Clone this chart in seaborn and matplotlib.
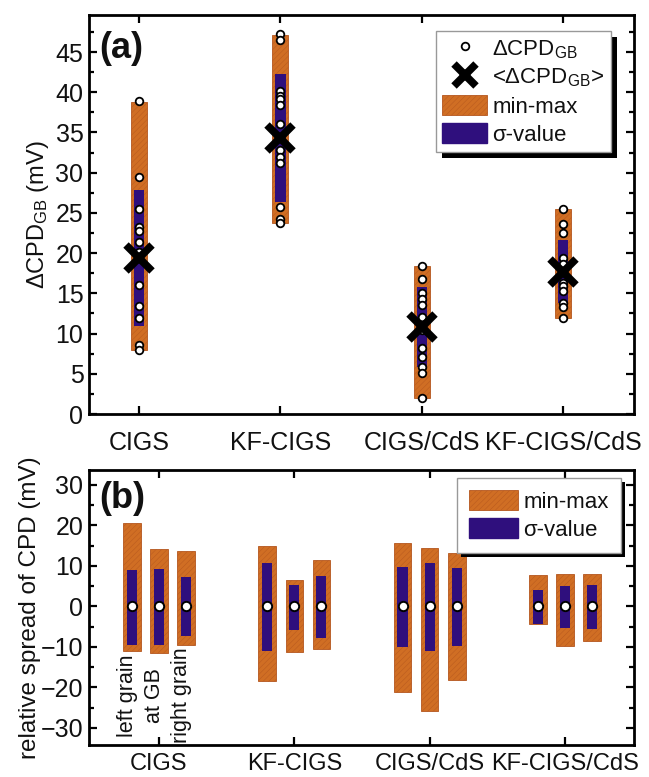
import numpy as np
import pandas as pd
import matplotlib
matplotlib.use('Agg')
import matplotlib.pyplot as plt
import seaborn as sns
from matplotlib.lines import Line2D
from matplotlib.patches import Patch, Rectangle
from matplotlib.ticker import MultipleLocator, AutoMinorLocator

# ---- data ----
categories = ['CIGS', 'KF-CIGS', 'CIGS/CdS', 'KF-CIGS/CdS']

# panel (a): Delta CPD at grain boundaries
gb_min = [8.0, 23.8, 2.0, 11.9]
gb_max = [38.8, 47.1, 18.4, 25.5]
gb_sig_lo = [11.0, 26.4, 5.9, 13.8]
gb_sig_hi = [27.9, 42.3, 15.8, 21.6]
gb_mean = [19.4, 34.3, 10.8, 17.6]
gb_cigs = [38.9, 29.4, 25.5, 23.3, 22.8, 21.4, 20.2, 16.0, 13.4, 11.9, 8.6, 8.0]
gb_kf = [47.2, 46.5, 40.1, 39.5, 39.1, 38.4, 36.1, 32.8, 31.9, 31.2, 25.7, 24.3, 23.8]
gb_cds = [18.4, 16.8, 15.1, 14.3, 13.5, 12.1, 10.4, 8.2, 7.1, 5.9, 5.1, 2.0]
gb_kfcds = [25.5, 23.6, 22.5, 19.4, 18.6, 17.7, 16.3, 15.9, 15.3, 13.8, 13.3, 11.9]

# panel (b): relative spread of CPD (left grain, at GB, right grain)
positions = ['left grain', 'at GB', 'right grain']
spread_min = [[-11.1, -11.5, -9.5], [-18.4, -11.3, -10.6], [-21.0, -25.7, -18.1], [-4.4, -9.8, -8.6]]
spread_max = [[20.6, 14.2, 13.6], [15.0, 6.6, 11.5], [15.6, 14.5, 13.3], [7.7, 8.1, 7.9]]
spread_sig_lo = [[-9.4, -9.4, -7.4], [-11.1, -5.7, -7.8], [-10.0, -11.1, -9.7], [-4.3, -5.3, -5.5]]
spread_sig_hi = [[9.1, 9.2, 7.2], [10.8, 5.3, 7.6], [9.7, 10.8, 9.5], [4.1, 5.0, 5.2]]

ORANGE = '#d06e24'
ORANGE_EDGE = '#b4561e'
PURPLE = '#2f0f7d'

sns.set_theme(style='ticks')
plt.rcParams['font.family'] = ['Liberation Sans', 'DejaVu Sans']
plt.rcParams['mathtext.fontset'] = 'custom'
plt.rcParams['mathtext.rm'] = 'Liberation Sans'
plt.rcParams['mathtext.it'] = 'Liberation Sans'
plt.rcParams['hatch.linewidth'] = 0.3
plt.rcParams['text.color'] = '#111111'
plt.rcParams['axes.labelcolor'] = '#111111'

fig = plt.figure(figsize=(6.49, 7.77), dpi=100)
ax1 = fig.add_axes([89 / 649, 1 - 414 / 777, 545 / 649, 399 / 777])
ax2 = fig.add_axes([89 / 649, 1 - 745 / 777, 545 / 649, 275 / 777])

x = np.arange(len(categories))

# ---- panel (a) ----
ax1.bar(x, np.array(gb_max) - np.array(gb_min), bottom=gb_min, width=0.113,
        color=ORANGE, edgecolor=ORANGE_EDGE, linewidth=0.6, hatch='//////', zorder=2)
ax1.bar(x, np.array(gb_sig_hi) - np.array(gb_sig_lo), bottom=gb_sig_lo, width=0.073,
        color=PURPLE, linewidth=0, zorder=3)

dots = pd.DataFrame({
    'pos': np.concatenate([[i] * len(v) for i, v in enumerate([gb_cigs, gb_kf, gb_cds, gb_kfcds])]),
    'value': np.concatenate([gb_cigs, gb_kf, gb_cds, gb_kfcds]),
})
sns.scatterplot(data=dots, x='pos', y='value', ax=ax1, s=30, color='white',
                edgecolor='black', linewidth=1.3, zorder=4, legend=False)
ax1.plot(x, gb_mean, linestyle='none', marker='x', markersize=19, mew=5.5,
         color='black', zorder=5)

ax1.set_xlim(-0.354, 3.5)
ax1.set_ylim(0, 49.6)
ax1.yaxis.set_major_locator(MultipleLocator(5))
ax1.yaxis.set_minor_locator(AutoMinorLocator(2))
ax1.set_xticks(x)
ax1.set_xticklabels(categories, fontsize=18)
ax1.set_ylabel(r'$\Delta$CPD$_{\mathrm{GB}}$ (mV)', fontsize=17, labelpad=3)
ax1.text(0.018, 0.96, '(a)', transform=ax1.transAxes, fontsize=26,
         fontweight='bold', va='top', ha='left')

leg1_handles = [
    Line2D([], [], linestyle='none', marker='o', markersize=5.5, markerfacecolor='white',
           markeredgecolor='black', mew=1.3),
    Line2D([], [], linestyle='none', marker='x', markersize=16, mew=5.5, color='black'),
    Patch(facecolor=ORANGE, edgecolor=ORANGE_EDGE, linewidth=0.6, hatch='//////'),
    Patch(facecolor=PURPLE, edgecolor=PURPLE),
]
leg1_labels = [r'$\Delta$CPD$_{\mathrm{GB}}$', r'<$\Delta$CPD$_{\mathrm{GB}}$>', 'min-max', 'σ-value']
leg1 = ax1.legend(leg1_handles, leg1_labels, loc='upper right', bbox_to_anchor=(0.958, 0.96),
                  borderaxespad=0, fontsize=16, frameon=True, fancybox=False,
                  handlelength=2.0, handleheight=1.0, handletextpad=0.25,
                  labelspacing=0.25, borderpad=0.3)
leg1.get_frame().set_edgecolor('#999999')
leg1.get_frame().set_linewidth(1.0)
leg1.get_frame().set_alpha(1)

# ---- panel (b) ----
offsets = [-0.2, 0.0, 0.2]
rows = []
for i, cat in enumerate(categories):
    for j, p in enumerate(positions):
        rows.append({'cat': cat, 'where': p, 'pos': i + offsets[j],
                     'lo': spread_min[i][j], 'hi': spread_max[i][j],
                     'slo': spread_sig_lo[i][j], 'shi': spread_sig_hi[i][j]})
spread = pd.DataFrame(rows)

ax2.bar(spread['pos'], spread['hi'] - spread['lo'], bottom=spread['lo'], width=0.13,
        color=ORANGE, edgecolor=ORANGE_EDGE, linewidth=0.6, hatch='//////', zorder=2)
ax2.bar(spread['pos'], spread['shi'] - spread['slo'], bottom=spread['slo'], width=0.075,
        color=PURPLE, linewidth=0, zorder=3)
sns.scatterplot(x=spread['pos'], y=np.zeros(len(spread)), ax=ax2, s=45, color='white',
                edgecolor='black', linewidth=1.4, zorder=4, legend=False)

for j, p in enumerate(positions):
    ax2.text(offsets[j] - 0.03, -22, p, rotation=90, ha='center', va='center', fontsize=15.5)

ax2.set_xlim(-0.517, 3.51)
ax2.set_ylim(-34.2, 33.7)
ax2.yaxis.set_major_locator(MultipleLocator(10))
ax2.yaxis.set_minor_locator(AutoMinorLocator(2))
ax2.set_xticks(x)
ax2.set_xticklabels(categories, fontsize=17)
ax2.set_ylabel('relative spread of CPD (mV)', fontsize=17.5, labelpad=0)
ax2.text(0.018, 0.96, '(b)', transform=ax2.transAxes, fontsize=26,
         fontweight='bold', va='top', ha='left')

leg2 = ax2.legend(leg1_handles[2:], leg1_labels[2:], loc='upper right',
                  bbox_to_anchor=(0.976, 0.971), borderaxespad=0, fontsize=16,
                  frameon=True, fancybox=False, handlelength=2.2, handleheight=1.0,
                  handletextpad=0.25, labelspacing=0.25, borderpad=0.55)
leg2.get_frame().set_edgecolor('#999999')
leg2.get_frame().set_linewidth(1.0)
leg2.get_frame().set_alpha(1)

for ax in (ax1, ax2):
    ax.set_xlabel('')
    for s in ax.spines.values():
        s.set_linewidth(2.0)
        s.set_color('black')
    ax.tick_params(which='both', direction='in', top=True, right=True, width=1.6,
                   color='black', labelcolor='#111111')
    ax.tick_params(which='major', length=6)
    ax.tick_params(which='minor', length=3.5)
    ax.tick_params(axis='y', labelsize=18, pad=4)
    ax.yaxis.set_ticks_position('both')
ax1.tick_params(axis='x', which='major', pad=12)
ax2.tick_params(axis='x', which='major', pad=6)
ax1.tick_params(axis='x', which='minor', bottom=False, top=False)
ax2.tick_params(axis='x', which='minor', bottom=False, top=False)

# black drop shadows behind the legends
fig.canvas.draw()
inv = fig.transFigure.inverted()
for ax, leg, off in ((ax1, leg1, 6), (ax2, leg2, 4)):
    bb = leg.get_window_extent()
    (fx0, fy0), (fx1, fy1) = inv.transform([[bb.x0 + off, bb.y0 - off], [bb.x1 + off, bb.y1 - off]])
    ax.add_patch(Rectangle((fx0, fy0), fx1 - fx0, fy1 - fy0, transform=fig.transFigure,
                           facecolor='black', edgecolor='none', zorder=4.9, clip_on=False))

fig.savefig('out.png', dpi=100)
